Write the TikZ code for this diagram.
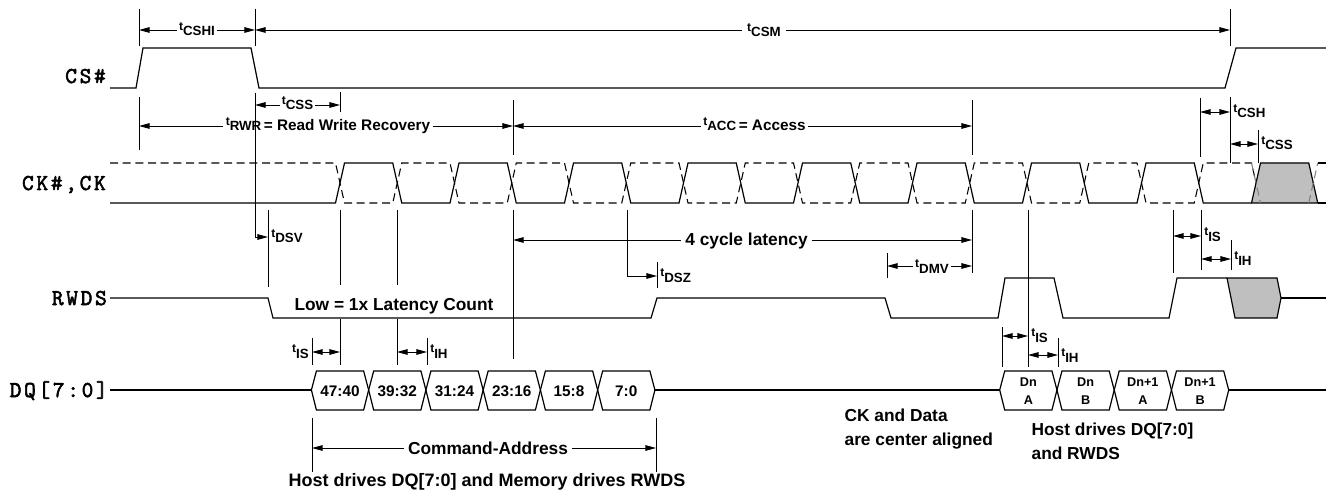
\documentclass[tikz,border=0pt]{standalone}
\usepackage{fontspec}
\setmainfont{Liberation Sans}
\newfontfamily\sigfont{Latin Modern Mono}[LetterSpace=12,FakeBold=2.5]
\usetikzlibrary{arrows.meta}
\newcommand\tsb[1]{\raisebox{4pt}{\fontsize{9}{9}\selectfont t}{\fontsize{10}{10}\selectfont #1}}
\begin{document}
\begin{tikzpicture}[x=0.75pt,y=-0.75pt,
  sig/.style={line width=0.9pt},
  dsh/.style={line width=0.8pt, dash pattern=on 6pt off 3.5pt},
  tk/.style={line width=0.7pt},
  dim/.style={line width=0.7pt},
  >={Triangle[length=8pt,width=4.2pt]},
  lab/.style={font=\bfseries\fontsize{11.5}{12}\selectfont, inner sep=1.5pt, anchor=base},
  big/.style={font=\bfseries\fontsize{13}{14}\selectfont, inner sep=1pt},
  sn/.style={font=\sigfont\fontsize{17}{17}\selectfont, anchor=base east, inner sep=0pt},
  cell/.style={font=\bfseries\fontsize{11.5}{12}\selectfont, inner sep=0pt},
  dcell/.style={font=\bfseries\fontsize{9.5}{13}\selectfont, align=center, inner sep=0pt},
]
\useasboundingbox (0,0) rectangle (1326,495);

% signal names
\node[sn] (csl) at (106,83) {CS\#};
\node[sn] (ckl) at (106,190) {CK\#,CK};
\node[sn] (rwl) at (107,305) {RWDS};
\node[sn] (dql) at (108,397) {DQ[7:0]};

% CS#
\draw[sig] (110,88) -- (136,88) -- (143,48) -- (251,48) -- (259,88) -- (1225,88) -- (1236,48) -- (1326,48);

% CK (solid) and CK# (dashed)
\draw[sig] (110,203) foreach \k in {0,2,...,14} {
  -- ({340+57.25*\k-4.5},203) -- ({340+57.25*\k+4.5},163)
  -- ({340+57.25*(\k+1)-4.5},163) -- ({340+57.25*(\k+1)+4.5},203) } -- (1251.5,203);
\draw[dsh] (110,163) foreach \k in {0,2,...,14} {
  -- ({340+57.25*\k-4.5},163) -- ({340+57.25*\k+4.5},203)
  -- ({340+57.25*(\k+1)-4.5},203) -- ({340+57.25*(\k+1)+4.5},163) } -- (1251.5,163) -- (1260.5,203);
\draw[sig, fill=gray!50] (1251.5,203) -- (1260.5,163) -- (1308.75,163) -- (1317.75,203) -- cycle;
\draw[dsh, gray] (1251.5,163) -- (1260.5,203);
\draw[dsh, gray] (1308.75,203) -- (1317.75,163);
\draw[sig] (1317.75,203) -- (1326,203);
\draw[sig] (1317.75,163) -- (1326,163);

% RWDS
\draw[sig] (110,298) -- (268,298) -- (273,318) -- (651,318) -- (657,298) -- (885,298) -- (891,318) -- (998,318) -- (1005,278) -- (1054,278) -- (1063,318) -- (1169,318) -- (1177,278) -- (1227,278);
\draw[sig, fill=gray!50] (1227,278) -- (1277,278) -- (1281,298) -- (1277,318) -- (1235,318) -- cycle;
\draw[sig] (1281,298) -- (1326,298);

% DQ
\draw[sig] (110,390) -- (311.4,390);
\foreach \i/\t in {0/47:40,1/39:32,2/31:24,3/23:16,4/15:8,5/7:0} {
  \pgfmathsetmacro\a{311.4+57.25*\i}
  \pgfmathsetmacro\b{\a+57.25}
  \draw[sig] (\a,390) -- (\a+5,371) -- (\b-5,371) -- (\b,390) -- (\b-5,410) -- (\a+5,410) -- cycle;
  \node[cell] (ca\i) at ({(\a+\b)/2},391) {\t};
}
\draw[sig] (654.9,390) -- (999.7,390);
\foreach \i/\t in {0/{Dn\\A},1/{Dn\\B},2/{Dn+1\\A},3/{Dn+1\\B}} {
  \pgfmathsetmacro\a{999.7+57.25*\i}
  \pgfmathsetmacro\b{\a+57.25}
  \draw[sig] (\a,390) -- (\a+5,371) -- (\b-5,371) -- (\b,390) -- (\b-5,410) -- (\a+5,410) -- cycle;
  \node[dcell] (cd\i) at ({(\a+\b)/2},391) {\t};
}
\draw[sig] (1228.7,390) -- (1326,390);

% top timing
\draw[tk] (139,9) -- (139,46);
\draw[tk] (255,9) -- (255,46);
\draw[tk] (1230,9) -- (1230,46);
\node[lab] (tcshi) at (197,36) {\tsb{CSHI}};
\draw[dim,<-] (139,30) -- (tcshi.west |- 0,30);
\draw[dim,->] (tcshi.east |- 0,30) -- (255,30);
\node[lab, inner xsep=4pt] (tcsm) at (764,37) {\tsb{CSM}};
\draw[dim,<-] (255,30) -- (tcsm.west |- 0,30);
\draw[dim,->] (tcsm.east |- 0,30) -- (1230,30);

% tCSS left and tDSV
\draw[dim,->] (255,93) -- (255,237) -- (268,237);
\draw[tk] (340,92) -- (340,112);
\node[lab] (tcss) at (297.5,110) {\tsb{CSS}};
\draw[dim,<-] (255,105) -- (tcss.west |- 0,105);
\draw[dim,->] (tcss.east |- 0,105) -- (340,105);

% tRWR and tACC
\draw[tk] (139,97) -- (139,150);
\draw[tk] (513,100) -- (513,155);
\draw[tk] (972,100) -- (972,155);
\node[lab] (trwr) at (328,131) {\tsb{RWR}\,= Read Write Recovery};
\draw[dim,<-] (139,126) -- (trwr.west |- 0,126);
\draw[dim,->] (trwr.east |- 0,126) -- (513,126);
\node[lab] (tacc) at (754.5,131) {\tsb{ACC}\,= Access};
\draw[dim,<-] (513,126) -- (tacc.west |- 0,126);
\draw[dim,->] (tacc.east |- 0,126) -- (972,126);

% tCSH, tCSS right
\draw[tk] (1200,98) -- (1200,157);
\draw[tk] (1230,97) -- (1230,163);
\draw[tk] (1258,130) -- (1258,163);
\draw[dim,<->] (1200,112) -- (1230,112);
\node[lab, anchor=base west] (tcsh) at (1231,118) {\tsb{CSH}};
\draw[dim,<->] (1230,144) -- (1258,144);
\node[lab, anchor=base west] (tcss2) at (1259,150) {\tsb{CSS}};

% below CK
\draw[tk] (268,210) -- (268,287);
\node[lab, anchor=base west] (tdsv) at (269,243) {\tsb{DSV}};
\draw[tk] (340,210) -- (340,285);
\draw[tk] (340,319) -- (340,365);
\draw[tk] (397,210) -- (397,285);
\draw[tk] (397,319) -- (397,365);
\draw[tk] (513,210) -- (513,359);
\node[big, anchor=base, inner xsep=3pt] (lat) at (746.5,245) {4 cycle latency};
\draw[dim,<-] (513,240) -- (lat.west |- 0,240);
\draw[dim,->] (lat.east |- 0,240) -- (972,240);
\draw[tk] (972,210) -- (972,273);
\draw[dim,->] (627,210) -- (627,276) -- (657,276);
\draw[tk] (657,262) -- (657,288);
\node[lab, anchor=base west] (tdsz) at (658,282) {\tsb{DSZ}};
\draw[tk] (887,253) -- (887,278);
\node[lab] (tdmv) at (932,273) {\tsb{DMV}};
\draw[dim,<-] (887,266) -- (tdmv.west |- 0,266);
\draw[dim,->] (tdmv.east |- 0,266) -- (972,266);
\draw[tk] (1028,210) -- (1028,367);
\draw[tk] (1173,210) -- (1173,273);
\draw[tk] (1201,210) -- (1201,270);
\draw[dim,<->] (1173,236) -- (1201,236);
\node[lab, anchor=base west] (tis1) at (1202,241) {\tsb{IS}};
\draw[tk] (1231,240) -- (1231,270);
\draw[dim,<->] (1201,259) -- (1231,259);
\node[lab, anchor=base west] (tih1) at (1232,265) {\tsb{IH}};

\node[big, anchor=base] (low) at (394,310) {Low = 1x Latency Count};

% DQ setup/hold
\draw[tk] (312,338) -- (312,365);
\draw[dim,<->] (312,352) -- (340,352);
\node[lab, anchor=base east] (tis2) at (311,358) {\tsb{IS}};
\draw[dim,<->] (397,352) -- (427,352);
\draw[tk] (427,338) -- (427,365);
\node[lab, anchor=base west] (tih2) at (428,358) {\tsb{IH}};
\draw[tk] (1002,327) -- (1002,367);
\draw[dim,<->] (1002,336) -- (1028,336);
\node[lab, anchor=base west] (tis3) at (1029,342) {\tsb{IS}};
\draw[tk] (1058,338) -- (1058,367);
\draw[dim,<->] (1028,355) -- (1058,355);
\node[lab, anchor=base west] (tih3) at (1059,362) {\tsb{IH}};

% Command-Address
\draw[tk] (312,418) -- (312,472);
\draw[tk] (656,418) -- (656,472);
\node[big, anchor=base, inner xsep=3pt] (cmd) at (488,454) {Command-Address};
\draw[dim,<-] (312,448) -- (cmd.west |- 0,448);
\draw[dim,->] (cmd.east |- 0,448) -- (656,448);
\node[big, anchor=base, font=\bfseries\fontsize{13.5}{14}\selectfont] (hd) at (487,486) {Host drives DQ[7:0] and Memory drives RWDS};
\node[big, anchor=base west] (ck1) at (843,421) {CK and Data};
\node[big, anchor=base west] (ck2) at (843,445) {are center aligned};
\node[big, anchor=base west] (hd1) at (1030,435) {Host drives DQ[7:0]};
\node[big, anchor=base west] (hd2) at (1030,459) {and RWDS};
\end{tikzpicture}
\end{document}
